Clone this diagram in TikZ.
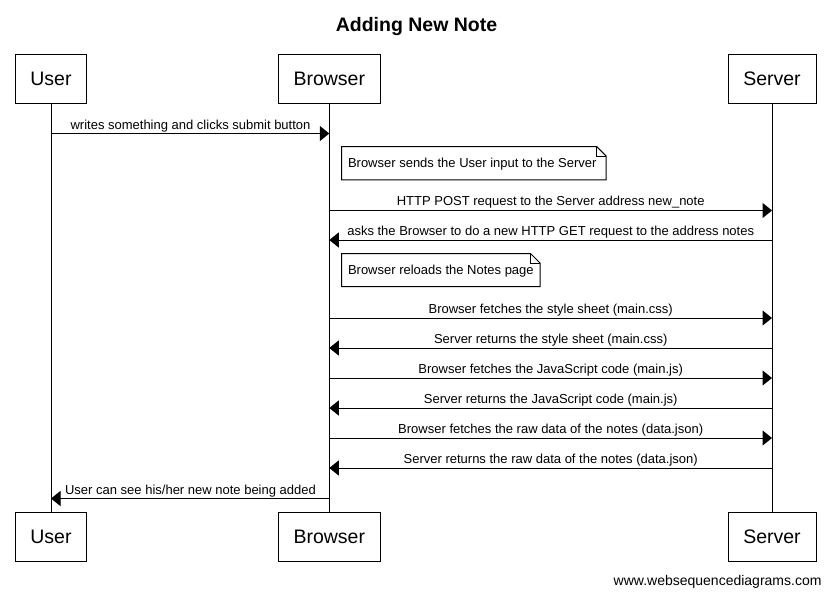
\documentclass[tikz,border=0pt]{standalone}
\usepackage{fontspec}
\setmainfont{Liberation Sans}
\usetikzlibrary{arrows.meta}
\begin{document}
\begin{tikzpicture}[x=1pt,y=-1pt,line width=1pt,
  actor/.style={draw,fill=white,inner sep=0pt,minimum height=49pt,
    font=\fontsize{19.5}{22}\selectfont,text height=14.2pt,text depth=0pt},
  msgfont/.style={font=\fontsize{13}{15}\selectfont},
  lbl/.style={msgfont,inner sep=0pt,anchor=base},
  msg/.style={-{Triangle[length=9.5pt,width=15pt]}},
  notebox/.style={msgfont,inner sep=0pt,anchor=base west},
  lifeline/.style={line width=1pt}]
\useasboundingbox (0,0) rectangle (831,595);
% title
\node[font=\bfseries\fontsize{19.5}{22}\selectfont,anchor=base,inner sep=0pt] (title) at (416.5,31) {Adding New Note};
% actors
\node[actor,minimum width=71pt] (userT) at (51,78.8) {User};
\node[actor,minimum width=102pt] (browserT) at (329.3,78.8) {Browser};
\node[actor,minimum width=88pt] (serverT) at (772,78.8) {Server};
\node[actor,minimum width=71pt] (userB) at (51,536.7) {User};
\node[actor,minimum width=102pt] (browserB) at (329.3,536.7) {Browser};
\node[actor,minimum width=88pt] (serverB) at (772,536.7) {Server};
% lifelines
\draw[lifeline] (userT) -- (userB);
\draw[lifeline] (browserT) -- (browserB);
\draw[lifeline] (serverT) -- (serverB);
% message coordinates
\foreach \n/\y in {1/133.5,3/210.5,4/240,5/318,6/348,7/378,8/408,9/438,10/468,11/498.5}{
  \coordinate (u\n) at (51,\y);
  \coordinate (b\n) at (329.3,\y);
  \coordinate (s\n) at (772,\y);
}
% message 1
\draw[msg] (u1) -- (b1);
\node[lbl] (m1) at (190.5,129) {writes something and clicks submit button};
% note 1
\node[notebox] (n1) at (347.5,167) {Browser sends the User input to the Server};
\draw (341.7,146.5) -- (596.7,146.5) -- (606.2,156) -- (606.2,179.8) -- (341.7,179.8) -- cycle;
\draw (596.7,146.5) -- (596.7,156) -- (606.2,156);
% message 3
\draw[msg] (b3) -- (s3);
\node[lbl] (m3) at (550.7,205.5) {HTTP POST request to the Server address new\_note};
% message 4
\draw[msg] (s4) -- (b4);
\node[lbl] (m4) at (550.7,235) {asks the Browser to do a new HTTP GET request to the address notes};
% note 2
\node[notebox] (n2) at (347.5,274) {Browser reloads the Notes page};
\draw (341.7,253.5) -- (530.5,253.5) -- (540,263) -- (540,286.5) -- (341.7,286.5) -- cycle;
\draw (530.5,253.5) -- (530.5,263) -- (540,263);
% messages 5-10
\draw[msg] (b5) -- (s5);
\node[lbl] (m5) at (550.7,313) {Browser fetches the style sheet (main.css)};
\draw[msg] (s6) -- (b6);
\node[lbl] (m6) at (550.7,343) {Server returns the style sheet (main.css)};
\draw[msg] (b7) -- (s7);
\node[lbl] (m7) at (550.7,373) {Browser fetches the JavaScript code (main.js)};
\draw[msg] (s8) -- (b8);
\node[lbl] (m8) at (550.7,403) {Server returns the JavaScript code (main.js)};
\draw[msg] (b9) -- (s9);
\node[lbl] (m9) at (550.7,433) {Browser fetches the raw data of the notes (data.json)};
\draw[msg] (s10) -- (b10);
\node[lbl] (m10) at (550.7,463) {Server returns the raw data of the notes (data.json)};
% message 11
\draw[msg] (b11) -- (u11);
\node[lbl] (m11) at (190.5,494) {User can see his/her new note being added};
% watermark
\node[font=\fontsize{14}{16}\selectfont,anchor=base east,inner sep=0pt] (wm) at (822,585) {www.websequencediagrams.com};
\end{tikzpicture}
\end{document}
